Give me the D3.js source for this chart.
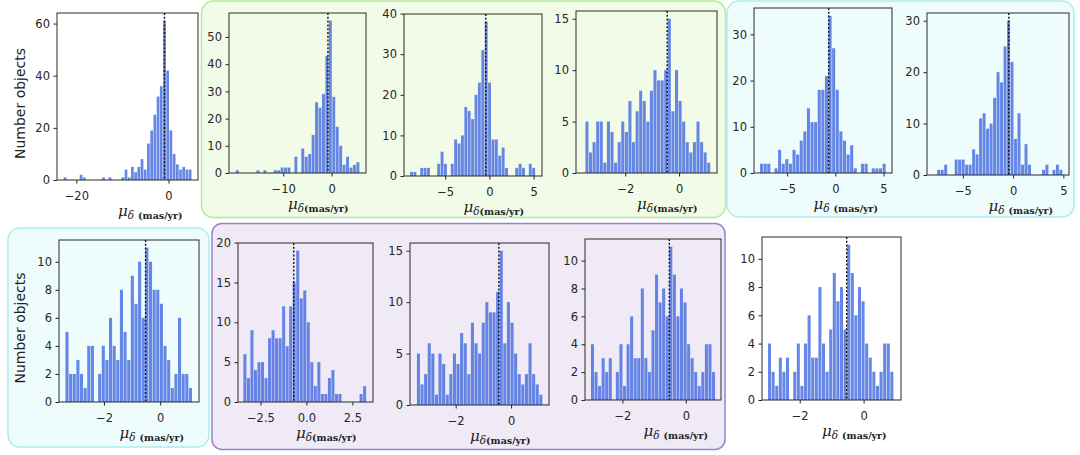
<!DOCTYPE html>
<html>
<head>
<meta charset="utf-8">
<script src="https://cdn.jsdelivr.net/npm/d3@7"></script>
<style>
  body { margin: 0; background: #fff; }
</style>
</head>
<body>
<script>
// bin counts per panel
var counts1 = [1,0,0,0,0,2,1,0,0,0,0,0,1,0,1,0,0,0,1,4,1,5,3,5,8,4,14,19,25,32,36,61,42,19,10,6,4,5,4,4];
var counts2 = [1,0,0,0,0,0,1,0,1,0,0,1,1,2,2,2,0,6,0,9,6,7,14,26,24,29,43,56,28,17,10,3,6,2,3,4];
var counts3 = [1,1,0,2,2,2,0,0,3,6,3,0,3,9,8,10,17,16,14,20,23,31,38,23,9,9,5,7,2,0,0,2,3,2,0,3,2];
var counts4 = [5,2,3,5,5,1,5,4,1,3,5,4,7,3,6,8,7,5,8,10,9,9,10,15,6,10,7,5,3,2,3,5,3,2,1];
var counts5 = [2,2,2,0,1,5,2,3,2,5,4,7,9,14,11,11,18,18,21,34,27,18,9,7,4,6,1,0,2,2,0,1,1,1,2];
var counts6 = [1,1,2,0,0,3,3,3,2,2,5,4,11,12,9,10,15,20,18,25,30,22,7,12,2,6,2,0,0,0,1,2,0,1,2,1];
var counts7 = [5,2,2,3,2,1,4,4,0,2,4,3,6,4,3,8,5,3,9,7,10,6,11,10,8,8,7,4,3,1,2,6,2,2,1];
var counts8 = [6,3,9,4,5,5,3,8,9,8,8,12,7,12,15,19,13,14,10,5,2,5,1,1,3,4,1,1,0,0,0,0,0,1,2];
var counts9 = [5,2,3,6,5,1,5,4,1,3,5,4,7,6,3,8,6,5,8,10,9,9,11,15,6,10,8,5,3,2,3,6,3,2,1];
var counts10 = [4,2,1,3,2,3,0,2,4,1,4,6,3,3,8,3,2,5,9,7,8,6,11,9,6,8,7,4,3,2,1,2,4,4,2];
var counts11 = [4,2,1,3,2,3,0,2,4,1,4,6,3,3,8,4,2,5,9,7,8,5,11,9,6,8,7,4,3,2,1,2,4,4,2];

var allCounts = [counts1, counts2, counts3, counts4, counts5, counts6, counts7, counts8, counts9, counts10, counts11];

// first and last bin edge (mas/yr)
var binRanges = [[-22.8, 5.04], [-19.84, 5.78], [-9.0, 5.2], [-3.49, 1.17], [-7.84, 5.25], [-7.58, 4.93],
                 [-3.38, 1.14], [-3.44, 3.26], [-3.41, 1.14], [-3.0, 0.93], [-3.0, 0.94]];

// median marks (dotted line)
var medians = [-0.87, -0.76, -0.41, -0.44, -0.69, -0.43, -0.52, -0.69, -0.44, -0.52, -0.53];

var xLims = [[-24.2, 6.4], [-21.2, 7.1], [-9.66, 5.95], [-3.83, 1.41], [-8.44, 5.88], [-8.57, 5.56],
             [-3.6, 1.38], [-3.72, 3.62], [-3.65, 1.37], [-3.18, 1.11], [-3.18, 1.17]];

var xTicks = [[-20, 0], [-10, 0], [-5, 0, 5], [-2, 0], [-5, 0, 5], [-5, 0, 5],
              [-2, 0], [-2.5, 0, 2.5], [-2, 0], [-2, 0], [-2, 0]];
var yTicks = [[0, 20, 40, 60], [0, 10, 20, 30, 40, 50], [0, 10, 20, 30, 40], [0, 5, 10, 15],
              [0, 10, 20, 30], [0, 10, 20, 30], [0, 2, 4, 6, 8, 10], [0, 5, 10, 15, 20],
              [0, 5, 10, 15], [0, 2, 4, 6, 8, 10], [0, 2, 4, 6, 8, 10]];

// layout: axes frame [left, top, right, bottom]
var frames = [[57,13,198,180], [229,13,366,173], [404,14,542,176], [576,11,717,173], [754,8,892,173], [927,13,1069,175],
              [59,240,199,402], [238,243,373,402], [410,243,549,405], [585,239,721,400], [762,237,901,400]];
var labelSpace = [1,0,0,0,1,1,1,0,0,1,1];
var hasYLabel = [1,0,0,0,0,0,1,0,0,0,0];

var groups = [
  {x: 201.5, y: 1, w: 524, h: 216.5, r: 12, fill: "#f2fbe8", stroke: "#b3ec98"},
  {x: 727, y: 1, w: 347, h: 216, r: 12, fill: "#effcfc", stroke: "#a9eded"},
  {x: 8, y: 228, w: 201, h: 219, r: 12, fill: "#effcfc", stroke: "#a9eded"},
  {x: 212, y: 223.5, w: 513, h: 226, r: 10, fill: "#efeaf5", stroke: "#9c80c9"}
];

var svg = d3.select("body").append("svg")
  .attr("width", 1080)
  .attr("height", 455);

function drawPanel(i) {
  var f = frames[i], data = allCounts[i];
  var lo = binRanges[i][0], hi = binRanges[i][1];
  var bw = (hi - lo) / data.length;
  var x = d3.scaleLinear().domain(xLims[i]).range([f[0], f[2]]);
  var y = d3.scaleLinear().domain([0, d3.max(data) * 1.05]).range([f[3], f[1]]);
  var g = svg.append("g");

  g.selectAll("rect.bar")
    .data(data)
    .enter().append("rect")
      .attr("class", "bar")
      .attr("x", function(d, j) { return x(lo + j * bw + bw * 0.075); })
      .attr("width", x(lo + bw * 0.85) - x(lo))
      .attr("y", function(d) { return y(d); })
      .attr("height", function(d) { return y(0) - y(d); })
      .attr("fill", "royalblue")
      .attr("fill-opacity", 0.8);

  g.append("line")
    .attr("x1", x(medians[i])).attr("x2", x(medians[i]))
    .attr("y1", f[1]).attr("y2", f[3])
    .attr("stroke", "#111")
    .attr("stroke-width", 1.4)
    .attr("stroke-dasharray", "2,1.8");

  var fmt = i == 7 ? d3.format(".1f") : d3.format("d");

  var ax = g.append("g")
    .attr("transform", "translate(0," + f[3] + ")")
    .call(d3.axisBottom(x).tickValues(xTicks[i]).tickSize(3.5).tickPadding(8).tickFormat(fmt));
  var ay = g.append("g")
    .attr("transform", "translate(" + f[0] + ",0)")
    .call(d3.axisLeft(y).tickValues(yTicks[i]).tickSize(3.5).tickPadding(3.5).tickFormat(d3.format("d")));

  [ax, ay].forEach(function(a) {
    a.select(".domain").remove();
    a.attr("font-family", "DejaVu Sans").attr("font-size", 11.5);
    a.selectAll("text").attr("fill", "#262626");
    a.selectAll("line").attr("stroke", "#222");
  });

  g.append("rect")
    .attr("x", f[0]).attr("y", f[1])
    .attr("width", f[2] - f[0]).attr("height", f[3] - f[1])
    .attr("fill", "none")
    .attr("stroke", "#2a2a2a")
    .attr("stroke-width", 1);

  var lab = g.append("text")
    .attr("x", (f[0] + f[2]) / 2 - 9.5)
    .attr("y", f[3] + 36)
    .attr("font-family", "DejaVu Serif")
    .attr("fill", "#222");
  lab.append("tspan").attr("font-style", "italic").attr("font-size", 15).text("μ");
  lab.append("tspan").attr("font-style", "italic").attr("font-size", 10.5).attr("dy", 3).text("δ");
  lab.append("tspan").attr("font-weight", "bold").attr("font-size", 9.5)
    .attr("dx", labelSpace[i] ? 4 : 0).text("(mas/yr)");

  if (hasYLabel[i]) {
    g.append("text")
      .attr("transform", "translate(20," + ((f[1] + f[3]) / 2 + 7) + ") rotate(-90)")
      .attr("text-anchor", "middle")
      .attr("dy", "0.35em")
      .attr("font-family", "DejaVu Sans")
      .attr("font-size", 14)
      .attr("fill", "#222")
      .text("Number objects");
  }
}

drawPanel(0);

svg.selectAll("rect.group")
  .data(groups)
  .enter().append("rect")
    .attr("class", "group")
    .attr("x", function(d) { return d.x; })
    .attr("y", function(d) { return d.y; })
    .attr("width", function(d) { return d.w; })
    .attr("height", function(d) { return d.h; })
    .attr("rx", function(d) { return d.r; })
    .attr("fill", function(d) { return d.fill; })
    .attr("stroke", function(d) { return d.stroke; })
    .attr("stroke-width", 1.5);

for (var i = 1; i < frames.length; i++) drawPanel(i);
</script>
</body>
</html>
